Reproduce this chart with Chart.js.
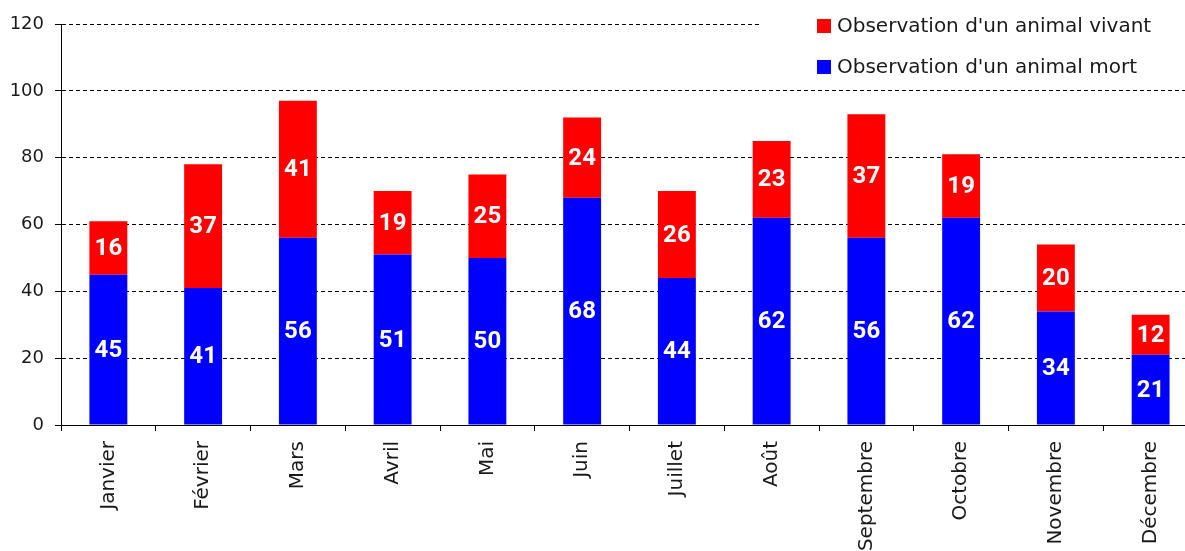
<!DOCTYPE html>
<html>
<head>
<meta charset="utf-8">
<script src="https://cdn.jsdelivr.net/npm/chart.js@4.4.1/dist/chart.umd.min.js"></script>
<style>
  html, body { margin: 0; padding: 0; background: #fff; overflow: hidden; }
  #wrap { position: relative; width: 1200px; height: 551px; }
</style>
</head>
<body>
<div id="wrap"><canvas id="c"></canvas></div>
<script>
const months = ["Janvier", "Février", "Mars", "Avril", "Mai", "Juin", "Juillet", "Août", "Septembre", "Octobre", "Novembre", "Décembre"];
const mort = [45, 41, 56, 51, 50, 68, 44, 62, 56, 62, 34, 21];
const vivant = [16, 37, 41, 19, 25, 24, 26, 23, 37, 19, 20, 12];
const yTicks = [0, 20, 40, 60, 80, 100, 120];
const labelMort = "Observation d'un animal mort";
const labelVivant = "Observation d'un animal vivant";

const TEXT = '#1a1a1a';

const valueLabels = {
  id: 'valueLabels',
  afterDatasetsDraw(chart) {
    const ctx = chart.ctx;
    ctx.save();
    ctx.fillStyle = '#ffffff';
    ctx.font = 'bold 24px Roboto, "Liberation Sans", sans-serif';
    ctx.textAlign = 'center';
    ctx.textBaseline = 'middle';
    chart.data.datasets.forEach((ds, i) => {
      const meta = chart.getDatasetMeta(i);
      meta.data.forEach((el, j) => {
        const v = ds.data[j];
        ctx.fillText(String(v), el.x, (el.y + el.base) / 2 + 1);
      });
    });
    ctx.restore();
  }
};

const boxLegend = {
  id: 'boxLegend',
  afterDraw(chart) {
    const ctx = chart.ctx;
    ctx.save();
    ctx.fillStyle = '#ffffff';
    ctx.fillRect(762, 0, 440, 84);
    const items = [chart.data.datasets[1], chart.data.datasets[0]];
    const ys = [26, 67];
    ctx.font = '20px "DejaVu Sans", sans-serif';
    ctx.textBaseline = 'middle';
    ctx.textAlign = 'left';
    items.forEach((ds, k) => {
      ctx.fillStyle = ds.backgroundColor;
      ctx.fillRect(817, ys[k] - 7, 14, 14);
      ctx.fillStyle = TEXT;
      ctx.fillText(ds.label, 837, ys[k] + 1);
    });
    ctx.restore();
  }
};

new Chart(document.getElementById('c'), {
  type: 'bar',
  data: {
    labels: months,
    datasets: [
      { label: labelMort, data: mort, backgroundColor: '#0000ff', borderWidth: 0 },
      { label: labelVivant, data: vivant, backgroundColor: '#ff0000', borderWidth: 0 }
    ]
  },
  options: {
    responsive: true,
    maintainAspectRatio: false,
    animation: false,
    layout: { padding: { top: 24, right: 2, left: 0, bottom: 0 } },
    datasets: { bar: { categoryPercentage: 1.0, barPercentage: 0.4 } },
    plugins: {
      legend: { display: false },
      tooltip: { enabled: false }
    },
    scales: {
      x: {
        stacked: true,
        grid: {
          display: true,
          drawOnChartArea: false,
          drawTicks: true,
          tickLength: 6,
          tickColor: '#000',
          offset: true
        },
        border: { display: true, color: '#000', width: 1 },
        ticks: {
          color: TEXT,
          font: { family: '"DejaVu Sans", sans-serif', size: 20 },
          minRotation: 90,
          maxRotation: 90,
          autoSkip: false,
          padding: 10
        },
        afterFit(scale) { scale.height = 126; }
      },
      y: {
        stacked: true,
        min: 0,
        max: 120,
        afterBuildTicks(scale) { scale.ticks = yTicks.map(v => ({ value: v })); },
        grid: {
          color: '#000',
          lineWidth: 1,
          drawTicks: true,
          tickLength: 6,
          tickColor: '#000'
        },
        border: { display: true, color: '#000', width: 1, dash: [4, 3] },
        ticks: {
          color: TEXT,
          font: { family: '"DejaVu Sans", sans-serif', size: 18 },
          padding: 11
        },
        afterFit(scale) { scale.width = 61; }
      }
    }
  },
  plugins: [valueLabels, boxLegend]
});
</script>
</body>
</html>
